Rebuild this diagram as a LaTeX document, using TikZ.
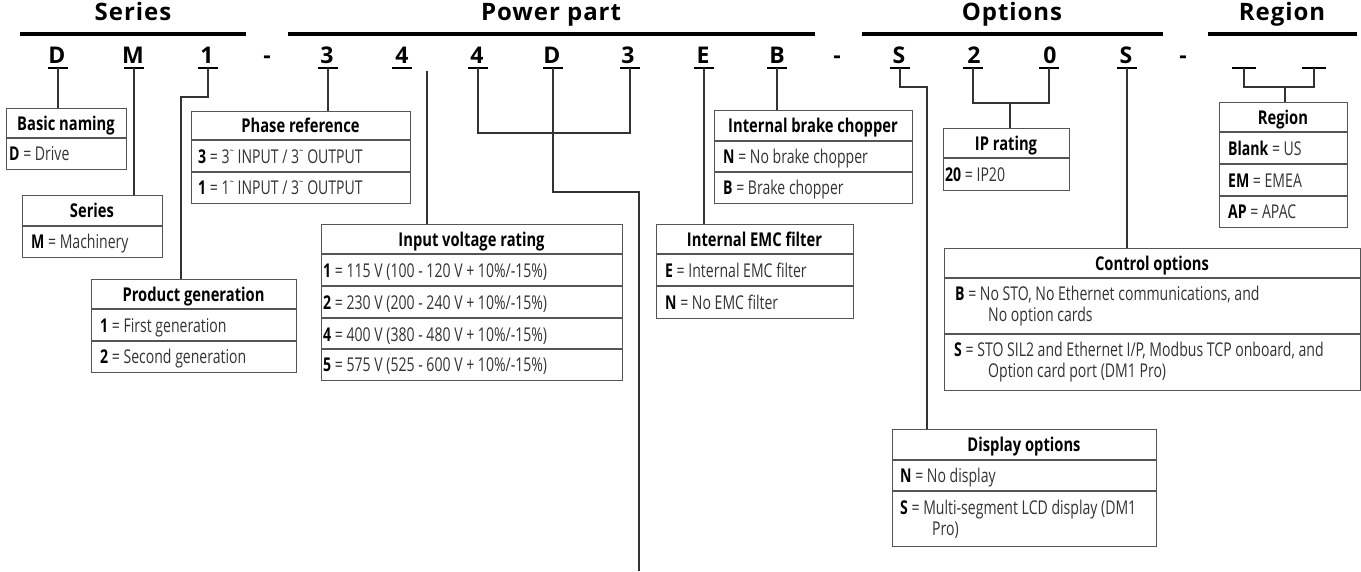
\documentclass[tikz,border=0pt]{standalone}
\usepackage{graphicx}
\usepackage{fontspec}
\newfontfamily\bodyf{Open Sans}[FakeStretch=0.74]
\newfontfamily\ttlf{Open Sans}[FakeStretch=0.775]
\newfontfamily\headf{Open Sans}[LetterSpace=4]
\newfontfamily\codef{Open Sans}
\definecolor{bodytxt}{HTML}{333333}
\definecolor{boxline}{HTML}{555555}
\definecolor{connline}{HTML}{333333}
\newcommand\kb[1]{{\bfseries\color{black}#1}}
\newcommand\ph{\raisebox{0.45em}{\scalebox{0.55}{\textasciitilde}}}
\newcommand\mkbox[5]{\node[infobox, anchor=north west, minimum width={#4-#2}, minimum height={#5-#3}] (#1) at (#2,#3) {};}
\begin{document}
\begin{tikzpicture}[x=1pt,y=-1pt,
  infobox/.style={draw=boxline, line width=1.4pt, inner sep=0pt},
  rowline/.style={draw=boxline, line width=1.2pt},
  conn/.style={draw=connline, line width=1.3pt},
  hbar/.style={draw=black, line width=4pt},
  uline/.style={draw=black, line width=2.4pt},
  hd/.style={font=\headf\bfseries\fontsize{24}{28}\selectfont, inner sep=0pt, anchor=base},
  codech/.style={font=\codef\bfseries\fontsize{23}{27}\selectfont, inner sep=0pt, anchor=base},
  ttl/.style={font=\ttlf\bfseries\fontsize{19}{22}\selectfont, inner sep=0pt, anchor=base, text=black},
  rowt/.style={font=\bodyf\fontsize{19}{22}\selectfont, inner sep=0pt, anchor=base west, text=bodytxt}
]
\useasboundingbox (0,0) rectangle (1361,571);

% header bars and titles
\draw[hbar] (20,34) -- (246,34);
\draw[hbar] (288,34) -- (815,34);
\draw[hbar] (862,34) -- (1163,34);
\draw[hbar] (1208,34) -- (1357,34);
\node[hd] (hSeries) at (133,20.5) {Series};
\node[hd] (hPower) at (551,20.5) {Power part};
\node[hd] (hOptions) at (1012,20.5) {Options};
\node[hd] (hRegion) at (1282,20.5) {Region};

% code characters
\node[codech] (cD1) at (57,63) {D};
\node[codech] (cM) at (133,63) {M};
\node[codech] (c1) at (207,63) {1};
\node[codech] (cDash1) at (267,63) {-};
\node[codech] (c3a) at (327,63) {3};
\node[codech] (c4a) at (402,63) {4};
\node[codech] (c4b) at (477,63) {4};
\node[codech] (cD2) at (552,63) {D};
\node[codech] (c3b) at (628,63) {3};
\node[codech] (cE) at (703,63) {E};
\node[codech] (cB) at (777,63) {B};
\node[codech] (cDash2) at (837,63) {-};
\node[codech] (cS1) at (899,63) {S};
\node[codech] (c2) at (974,63) {2};
\node[codech] (c0) at (1050,63) {0};
\node[codech] (cS2) at (1126,63) {S};
\node[codech] (cDash3) at (1183,63) {-};

% underline anchor coordinates
\coordinate (uD1) at (58,68);
\coordinate (uM) at (134,68);
\coordinate (u1) at (208,68);
\coordinate (u3a) at (328,68);
\coordinate (u4a) at (402,68);
\coordinate (u4b) at (478,68);
\coordinate (uD2) at (553,68);
\coordinate (u3b) at (630,68);
\coordinate (uE) at (704,68);
\coordinate (uB) at (777,68);
\coordinate (uS1) at (900,68);
\coordinate (u2) at (973,68);
\coordinate (u0) at (1049,68);
\coordinate (uS2) at (1127,68);
\coordinate (ur1) at (1244,68);
\coordinate (ur2) at (1314,68);
\foreach \u in {uD1,uM,u1,u3a,u4a,u4b,uD2,u3b,uE,uB,uS1,u2,u0,uS2}
  \draw[uline] ([xshift=-10]\u) -- ([xshift=10]\u);
\draw[uline] ([xshift=-12]ur1) -- ([xshift=12]ur1);
\draw[uline] ([xshift=-12]ur2) -- ([xshift=12]ur2);

% boxes
\mkbox{bn}{6}{108}{126}{169}
\draw[rowline] (6,138) -- (126,138);
\node[ttl] (bnT) at (66,130) {Basic naming};
\node[rowt] (bnR1) at (9,160.5) {\kb{D} = Drive};

\mkbox{sr}{22}{195}{162}{257}
\draw[rowline] (22,226) -- (162,226);
\node[ttl] (srT) at (92,217.5) {Series};
\node[rowt] (srR1) at (31,248.5) {\kb{M} = Machinery};

\mkbox{pg}{91}{279}{296}{372}
\draw[rowline] (91,309) -- (296,309);
\draw[rowline] (91,341) -- (296,341);
\node[ttl] (pgT) at (193.5,301) {Product generation};
\node[rowt] (pgR1) at (100,332) {\kb{1} = First generation};
\node[rowt] (pgR2) at (100,363.5) {\kb{2} = Second generation};

\mkbox{pr}{191}{111}{410}{203}
\draw[rowline] (191,140) -- (410,140);
\draw[rowline] (191,172) -- (410,172);
\node[ttl] (prT) at (300.5,132.5) {Phase reference};
\node[rowt] (prR1) at (198,163) {\kb{3} = 3\ph{} INPUT / 3\ph{} OUTPUT};
\node[rowt] (prR2) at (198,194.5) {\kb{1} = 1\ph{} INPUT / 3\ph{} OUTPUT};

\mkbox{iv}{321}{224}{622}{380}
\draw[rowline] (321,254) -- (622,254);
\draw[rowline] (321,286) -- (622,286);
\draw[rowline] (321,318) -- (622,318);
\draw[rowline] (321,349) -- (622,349);
\node[ttl] (ivT) at (471.5,246) {Input voltage rating};
\node[rowt] (ivR1) at (323,277) {\kb{1} = 115 V (100 - 120 V + 10\%/-15\%)};
\node[rowt] (ivR2) at (323,309) {\kb{2} = 230 V (200 - 240 V + 10\%/-15\%)};
\node[rowt] (ivR3) at (323,341) {\kb{4} = 400 V (380 - 480 V + 10\%/-15\%)};
\node[rowt] (ivR4) at (323,371.5) {\kb{5} = 575 V (525 - 600 V + 10\%/-15\%)};

\mkbox{bc}{714}{110}{912}{203}
\draw[rowline] (714,141) -- (912,141);
\draw[rowline] (714,172) -- (912,172);
\node[ttl] (bcT) at (813,132.5) {Internal brake chopper};
\node[rowt] (bcR1) at (723,163.5) {\kb{N} = No brake chopper};
\node[rowt] (bcR2) at (723,194.5) {\kb{B} = Brake chopper};

\mkbox{em}{656}{224}{853}{318}
\draw[rowline] (656,254) -- (853,254);
\draw[rowline] (656,286) -- (853,286);
\node[ttl] (emT) at (754.5,246) {Internal EMC filter};
\node[rowt] (emR1) at (665,277) {\kb{E} = Internal EMC filter};
\node[rowt] (emR2) at (665,309) {\kb{N} = No EMC filter};

\mkbox{ip}{943}{128}{1069}{190}
\draw[rowline] (943,158) -- (1069,158);
\node[ttl] (ipT) at (1006,150) {IP rating};
\node[rowt] (ipR1) at (945,181) {\kb{20} = IP20};

\mkbox{rg}{1219}{102}{1347}{227}
\draw[rowline] (1219,132) -- (1347,132);
\draw[rowline] (1219,164) -- (1347,164);
\draw[rowline] (1219,196) -- (1347,196);
\node[ttl] (rgT) at (1283,124) {Region};
\node[rowt] (rgR1) at (1228,155) {\kb{Blank} = US};
\node[rowt] (rgR2) at (1228,187) {\kb{EM} = EMEA};
\node[rowt] (rgR3) at (1228,218.5) {\kb{AP} = APAC};

\mkbox{co}{944}{248}{1360}{390}
\draw[rowline] (944,278) -- (1360,278);
\draw[rowline] (944,334) -- (1360,334);
\node[ttl] (coT) at (1152,270) {Control options};
\node[rowt] (coR1a) at (955,300) {\kb{B} = No STO, No Ethernet communications, and};
\node[rowt] (coR1b) at (988,321) {No option cards};
\node[rowt] (coR2a) at (954,356) {\kb{S} = STO SIL2 and Ethernet I/P, Modbus TCP onboard, and};
\node[rowt] (coR2b) at (988,377) {Option card port (DM1 Pro)};

\mkbox{dp}{892}{429}{1156}{546}
\draw[rowline] (892,460) -- (1156,460);
\draw[rowline] (892,491) -- (1156,491);
\node[ttl] (dpT) at (1024,451.5) {Display options};
\node[rowt] (dpR1) at (900,482.5) {\kb{N} = No display};
\node[rowt] (dpR2a) at (900,514) {\kb{S} = Multi-segment LCD display (DM1};
\node[rowt] (dpR2b) at (932,535) {Pro)};

% connectors
\draw[conn] (uD1) -- (uD1 |- bn.north);
\draw[conn] (uM) -- (uM |- sr.north);
\coordinate (k1) at (181,97);
\draw[conn] (u1) |- (k1) -- (k1 |- pg.north);
\draw[conn] (u3a) -- (u3a |- pr.north);
\coordinate (k4) at (427,71);
\draw[conn] (k4) -- (k4 |- iv.north);
\draw[conn] (u4b) -- ++(0,65) -| (u3b);
\coordinate (endD) at (639,571);
\draw[conn] (uD2) -- ++(0,124) -| (endD);
\draw[conn] (uE) -- (uE |- em.north);
\draw[conn] (uB) -- (uB |- bc.north);
\coordinate (kS) at (927,87);
\draw[conn] (uS1) |- (kS) -- (kS |- dp.north);
\draw[conn] (u2) -- ++(0,35) -| (u0);
\coordinate (kIP) at (1010,103);
\draw[conn] (kIP) -- (kIP |- ip.north);
\draw[conn] (uS2) -- (uS2 |- co.north);
\draw[conn] (ur1) -- ++(0,19) -| (ur2);
\coordinate (kRG) at (1285,87);
\draw[conn] (kRG) -- (kRG |- rg.north);
\end{tikzpicture}
\end{document}
